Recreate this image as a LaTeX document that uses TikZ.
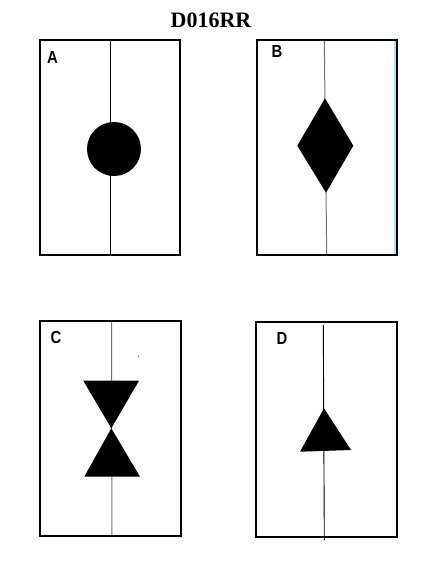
\documentclass[tikz,border=0pt]{standalone}
\usepackage{fontspec}
\setmainfont{Liberation Serif}
\setsansfont{Liberation Sans}
\begin{document}
\begin{tikzpicture}[x=1pt,y=-1pt,
  panel/.style={draw=black,line width=2pt},
  axis/.style={draw=black,line width=0.9pt},
  grayaxis/.style={draw=black!55,line width=1pt},
  shapefill/.style={fill=black,draw=none},
  lab/.style={font=\sffamily\bfseries\fontsize{17.5}{17.5}\selectfont,inner sep=0pt,xscale=0.85},
  ttl/.style={font=\bfseries\fontsize{22}{22}\selectfont,inner sep=0pt}]
\useasboundingbox (0,0) rectangle (440,587);
\fill[white] (0,0) rectangle (440,587);
% title
\node[ttl] (title) at (211,20.5) {D016RR};
% panel A
\draw[axis] (110.7,40) -- (110.7,255);
\fill[shapefill] (114,149) circle (27);
\draw[panel] (39.5,40) rectangle (180,255);
\node[lab] (la) at (52.5,57) {A};
% panel B
\draw[grayaxis] (324.3,40) -- (326.7,255);
\fill[shapefill] (325,98.3) -- (353.3,145.7) -- (326,192.7) -- (297.3,145.7) -- cycle;
\draw[cyan!35,line width=2pt] (395.2,41) -- (395.2,254);
\draw[panel] (256.7,40) rectangle (397.3,255);
\node[lab] (lb) at (277,51) {B};
% panel C
\draw[grayaxis] (111.5,320.7) -- (111.9,536);
\fill[shapefill] (83.3,380.7) -- (139,380.7) -- (111.3,428.3) -- cycle;
\fill[shapefill] (111.3,428.3) -- (140,476.7) -- (84.3,476.7) -- cycle;
\fill[black] (138.3,356.7) circle (0.5);
\draw[panel] (39.5,320.7) rectangle (180.7,536);
\node[lab] (lc) at (56,337.2) {C};
% panel D
\draw[axis] (323.3,325) -- (324.3,540);
\fill[shapefill] (324,408.3) -- (351,450) -- (300,451.7) -- cycle;
\draw[panel] (256,321.7) rectangle (396.7,537.3);
\node[lab] (ld) at (282,338.7) {D};
\end{tikzpicture}
\end{document}
